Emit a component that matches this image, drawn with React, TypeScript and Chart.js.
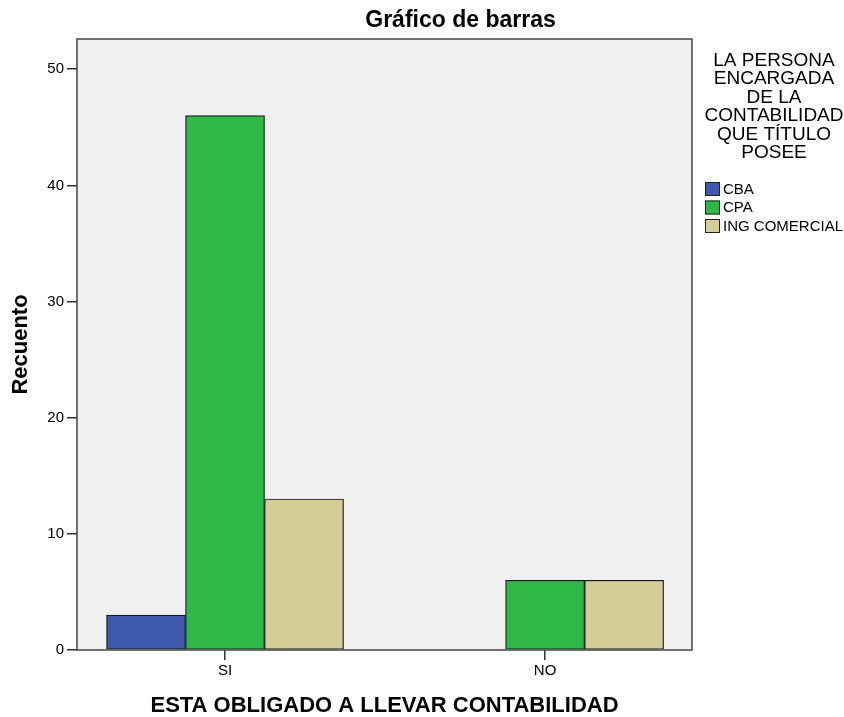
import React, { useEffect, useRef } from "react";
import { Chart, registerables } from "chart.js";

Chart.register(...registerables);

const CATEGORIES = ["SI", "NO"];
const SERIES_LABELS = ["CBA", "CPA", "ING COMERCIAL"];
const CBA = [3, 0];
const CPA = [46, 6];
const ING = [13, 6];
const SERIES_COLORS = ["#3E58AC", "#2EB848", "#D3CE97"];
const Y_TICKS = [0, 10, 20, 30, 40, 50];
const TITLE = "Gráfico de barras";
const X_TITLE = "ESTA OBLIGADO A LLEVAR CONTABILIDAD";
const Y_TITLE = "Recuento";
const LEGEND_TITLE = ["LA PERSONA", "ENCARGADA", "DE LA", "CONTABILIDAD", "QUE TÍTULO", "POSEE"];

const FONT = "'Liberation Sans', Arial, sans-serif";

const decorPlugin = {
  id: "decor",
  beforeDraw(chart: any) {
    const { ctx, chartArea } = chart;
    ctx.save();
    ctx.fillStyle = "#F0F0F0";
    ctx.fillRect(chartArea.left, chartArea.top, chartArea.right - chartArea.left, chartArea.bottom - chartArea.top);
    ctx.restore();
  },
  afterDatasetsDraw(chart: any) {
    const { ctx, chartArea } = chart;
    ctx.save();
    ctx.strokeStyle = "#444";
    ctx.lineWidth = 1.5;
    ctx.strokeRect(chartArea.left, chartArea.top, chartArea.right - chartArea.left, chartArea.bottom - chartArea.top);
    ctx.restore();
  },
  afterDraw(chart: any) {
    const { ctx, chartArea } = chart;
    ctx.save();
    // title
    ctx.fillStyle = "#000";
    ctx.font = `bold 23px ${FONT}`;
    ctx.textAlign = "center";
    ctx.textBaseline = "middle";
    ctx.fillText(TITLE, (chartArea.left + chart.width) / 2, 21);

    // legend
    const cx = 774;
    ctx.font = `19px ${FONT}`;
    ctx.textBaseline = "alphabetic";
    LEGEND_TITLE.forEach((line, i) => {
      ctx.fillText(line, cx, 66 + i * 18.4);
    });
    ctx.textAlign = "left";
    ctx.textBaseline = "middle";
    ctx.font = `15px ${FONT}`;
    chart.data.datasets.forEach((ds: any, i: number) => {
      const y = 182 + i * 18.5;
      ctx.fillStyle = ds.backgroundColor;
      ctx.fillRect(705, y, 15, 14);
      ctx.strokeStyle = "#222";
      ctx.lineWidth = 1;
      ctx.strokeRect(705.5, y + 0.5, 14, 13);
      ctx.fillStyle = "#000";
      ctx.fillText(ds.label, 723, y + 7.5);
    });
    ctx.restore();
  },
};

export default function App() {
  const ref = useRef<HTMLCanvasElement | null>(null);

  useEffect(() => {
    if (!ref.current) return;
    const series = [CBA, CPA, ING];
    const chart = new Chart(ref.current, {
      type: "bar",
      data: {
        datasets: series.map((vals, si) => ({
          label: SERIES_LABELS[si],
          data: vals.map((v, i) => ({ x: i, y: v })),
          backgroundColor: SERIES_COLORS[si],
          borderColor: "#1a1a1a",
          borderWidth: 1.2,
          borderSkipped: false,
          barThickness: 79,
        })),
      },
      options: {
        animation: false,
        responsive: true,
        maintainAspectRatio: false,
        devicePixelRatio: 1,
        layout: { padding: { top: 39, right: 152, left: 0, bottom: 0 } },
        plugins: {
          legend: { display: false },
          tooltip: { enabled: false },
          title: { display: false },
        },
        scales: {
          x: {
            type: "linear",
            min: -0.4625,
            max: 1.459,
            offset: false,
            afterBuildTicks: (s: any) => {
              s.ticks = CATEGORIES.map((_, i) => ({ value: i }));
            },
            afterFit: (s: any) => {
              s.height = 67;
            },
            grid: {
              offset: false,
              drawOnChartArea: false,
              drawTicks: true,
              tickLength: 10,
              color: "#333",
              lineWidth: 1.5,
            },
            border: { display: false },
            ticks: {
              autoSkip: false,
              maxRotation: 0,
              padding: 2,
              color: "#000",
              font: { family: FONT, size: 15 },
              callback: (v: any) => CATEGORIES[Math.round(Number(v))] ?? "",
            },
            title: {
              display: true,
              text: X_TITLE,
              color: "#000",
              font: { family: FONT, size: 22, weight: "bold", lineHeight: 1 },
              padding: 0,
            },
          },
          y: {
            min: 0,
            max: 52.6,
            afterBuildTicks: (s: any) => {
              s.ticks = Y_TICKS.map((v) => ({ value: v }));
            },
            afterFit: (s: any) => {
              s.width = 77;
            },
            grid: {
              drawOnChartArea: false,
              drawTicks: true,
              tickLength: 10,
              color: "#333",
              lineWidth: 1.5,
            },
            border: { display: false },
            ticks: {
              padding: 3,
              color: "#000",
              font: { family: FONT, size: 15 },
            },
            title: {
              display: true,
              text: Y_TITLE,
              color: "#000",
              font: { family: FONT, size: 22, weight: "bold", lineHeight: 1 },
              padding: { top: 10, bottom: 0 },
            },
          },
        },
      },
      plugins: [decorPlugin],
    } as any);
    return () => chart.destroy();
  }, []);

  return (
    <div style={{ position: "absolute", left: 0, top: 0, width: 844, height: 717, background: "#fff" }}>
      <canvas ref={ref} />
    </div>
  );
}
